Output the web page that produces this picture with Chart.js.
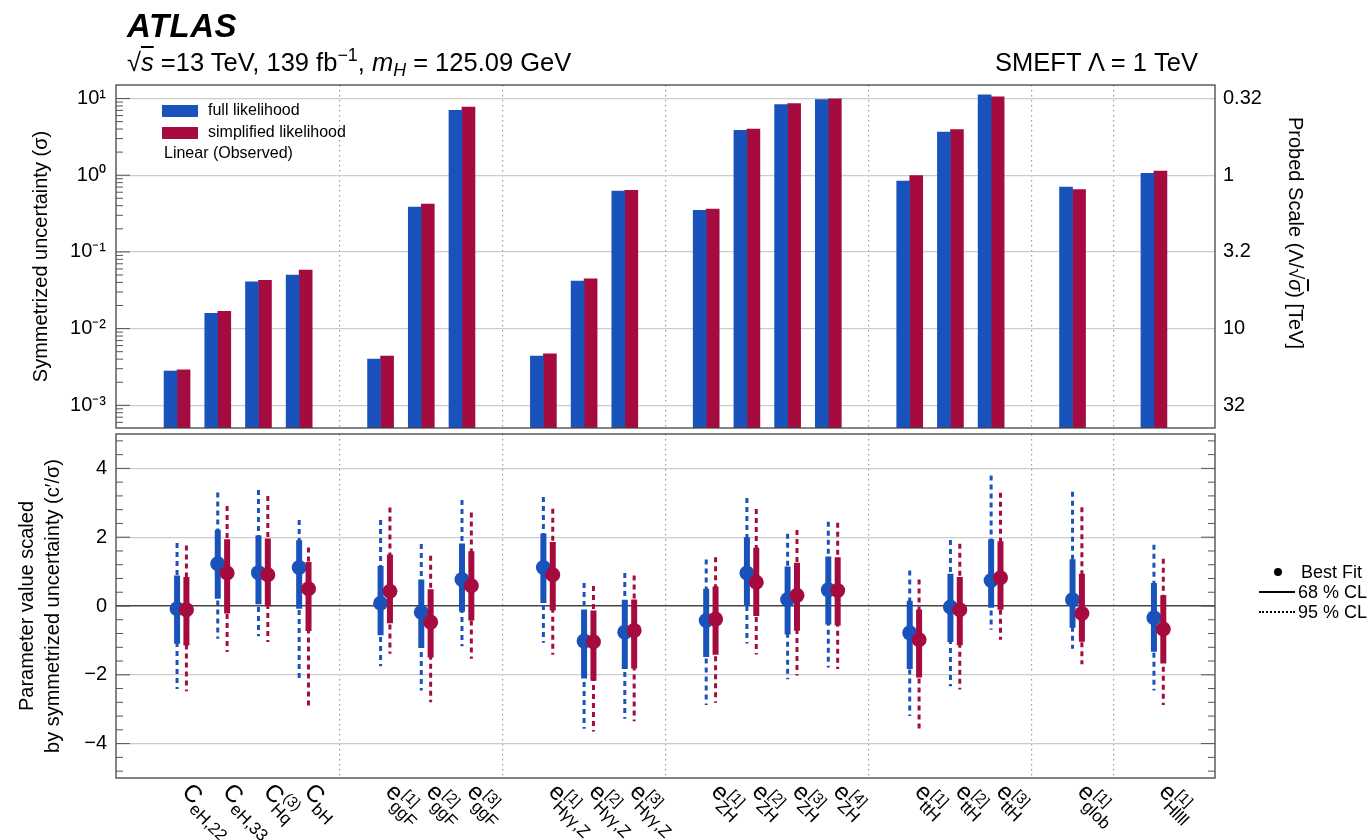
<!DOCTYPE html>
<html>
<head>
<meta charset="utf-8">
<script src="https://cdn.jsdelivr.net/npm/chart.js@4.4.1/dist/chart.umd.min.js"></script>
<style>
html,body{margin:0;padding:0;background:#fff;}
body{width:1372px;height:840px;position:relative;overflow:hidden;font-family:"Liberation Sans",Arial,sans-serif;color:#000;}
canvas{position:absolute;left:0;top:0;}
.t{position:absolute;white-space:nowrap;line-height:1;}
.sup{font-size:70%;vertical-align:0.55em;line-height:0;}
.sub{font-size:70%;vertical-align:-0.3em;line-height:0;}
.box{position:absolute;width:36px;height:12px;}
</style>
</head>
<body>
<canvas id="topChart" width="1372" height="840"></canvas>
<canvas id="lowChart" width="1372" height="840"></canvas>

<div class="t" style="left:127px;top:9px;font-size:33px;font-weight:bold;font-style:italic;letter-spacing:0.5px;">ATLAS</div>
<div class="t" style="left:127px;top:50px;font-size:25.5px;">&radic;<span style="text-decoration:overline;font-style:italic;">s</span> =13 TeV, 139 fb<span class="sup">&minus;1</span>, <i>m</i><span class="sub"><i>H</i></span> = 125.09 GeV</div>
<div class="t" style="right:174px;top:50px;font-size:25.5px;">SMEFT &Lambda; = 1 TeV</div>

<div class="box" style="left:162px;top:105px;background:#1a52bc;"></div>
<div class="box" style="left:162px;top:127px;background:#a50b3e;"></div>
<div class="t" style="left:208px;top:102px;font-size:16px;">full likelihood</div>
<div class="t" style="left:208px;top:124px;font-size:16px;">simplified likelihood</div>
<div class="t" style="left:164px;top:145px;font-size:16px;">Linear (Observed)</div>

<div class="t" style="left:1296px;top:233px;font-size:20px;transform:translate(-50%,-50%) rotate(90deg);">Probed Scale (&Lambda;/&radic;<span style="text-decoration:overline;font-style:italic;">&sigma;</span>) [TeV]</div>

<div style="position:absolute;left:1274px;top:568px;width:8px;height:8px;border-radius:50%;background:#000;"></div>
<div class="t" style="left:1301px;top:563px;font-size:18px;">Best Fit</div>
<div style="position:absolute;left:1259px;top:591px;width:36px;border-top:2px solid #000;"></div>
<div class="t" style="left:1298px;top:583px;font-size:18px;">68 % CL</div>
<div style="position:absolute;left:1259px;top:611px;width:36px;border-top:2px dotted #000;"></div>
<div class="t" style="left:1298px;top:603px;font-size:18px;">95 % CL</div>

<script>
const BLUE = '#1a52bc';
const RED = '#a50b3e';
const FONT = '"Liberation Sans", Arial, sans-serif';

// coefficient labels (main symbol, subscript, superscript)
const labelMain = ['C','C','C','C','e','e','e','e','e','e','e','e','e','e','e','e','e','e','e'];
const labelSub = ['eH,22','eH,33','Hq','bH','ggF','ggF','ggF','H\u03b3\u03b3,Z','H\u03b3\u03b3,Z','H\u03b3\u03b3,Z','ZH','ZH','ZH','ZH','ttH','ttH','ttH','glob','Hllll'];
const labelSup = ['','','(3)','','[1]','[2]','[3]','[1]','[2]','[3]','[1]','[2]','[3]','[4]','[1]','[2]','[3]','[1]','[1]'];
// slot index of each coefficient, dividers sit in the empty slots
const catPos = [0,1,2,3,5,6,7,9,10,11,13,14,15,16,18,19,20,22,24];
const dividers = [4,8,12,17,21,23];

// upper panel: symmetrized uncertainty
const fullSigma = [0.0028,0.0158,0.0408,0.0498,0.0040,0.384,7.0,0.0044,0.0416,0.62,0.348,3.84,8.36,9.7,0.836,3.65,11.2,0.70,1.06];
const simpSigma = [0.0029,0.0168,0.0425,0.0578,0.0044,0.42,7.71,0.0047,0.0446,0.633,0.362,4.0,8.61,9.9,0.99,3.92,10.5,0.65,1.13];
const sigmaTicks = [0.001,0.01,0.1,1,10];

// lower panel: best fit and intervals
const fullBest = [-0.08,1.23,0.97,1.12,0.08,-0.18,0.77,1.12,-1.02,-0.76,-0.42,0.96,0.19,0.47,-0.78,-0.03,0.74,0.18,-0.34];
const full68lo = [-1.10,0.21,0.05,-0.08,-0.85,-1.22,-0.17,0.09,-2.11,-1.83,-1.48,0.00,-0.83,-0.54,-1.83,-1.05,-0.05,-0.63,-1.33];
const full68hi = [0.89,2.22,2.05,1.91,1.16,0.77,1.82,2.11,-0.10,0.18,0.50,2.00,1.15,1.44,0.15,0.94,1.94,1.36,0.67];
const full95lo = [-2.41,-0.95,-0.88,-2.14,-1.75,-2.46,-1.17,-1.07,-3.57,-3.28,-2.88,-1.09,-2.13,-1.79,-3.20,-2.33,-0.69,-1.24,-2.46];
const full95hi = [1.83,3.30,3.37,2.50,2.50,1.80,3.08,3.17,0.67,0.96,1.35,3.14,2.10,2.45,1.03,1.92,3.79,3.32,1.78];
const simpBest = [-0.11,0.96,0.91,0.50,0.43,-0.47,0.59,0.91,-1.04,-0.71,-0.38,0.69,0.31,0.45,-0.98,-0.11,0.82,-0.22,-0.67];
const simp68lo = [-1.15,-0.22,-0.01,-0.73,-0.50,-1.50,-0.42,-0.13,-2.17,-1.82,-1.42,-0.29,-0.72,-0.57,-2.08,-1.14,-0.11,-1.04,-1.67];
const simp68hi = [0.84,1.94,1.96,1.28,1.50,0.49,1.59,1.86,-0.13,0.19,0.57,1.69,1.26,1.42,-0.10,0.84,1.88,0.94,0.31];
const simp95lo = [-2.48,-1.34,-1.05,-2.94,-1.39,-2.80,-1.53,-1.42,-3.65,-3.35,-2.81,-1.41,-2.02,-1.83,-3.65,-2.43,-0.98,-1.69,-2.88];
const simp95hi = [1.76,2.91,3.20,1.70,2.86,1.46,2.72,2.83,0.58,0.89,1.42,2.82,2.21,2.42,0.77,1.81,3.29,2.87,1.37];
const paramTicks = [-4,-2,0,2,4];

const RED_SHIFT = 0.23; // simplified markers sit a bit right of the full ones

Chart.defaults.font.family = FONT;
Chart.defaults.color = '#000';

const supMap = {'-':'\u207b','0':'\u2070','1':'\u00b9','2':'\u00b2','3':'\u00b3'};
function decadeLabel(v){
    const e = String(Math.round(Math.log10(v)));
    return '10' + e.split('').map(c=>supMap[c]).join('');
}
function probedLabel(v){
    return String(Number((1/Math.sqrt(v)).toPrecision(2)));
}

const framePlugin = {
    id:'frame',
    afterDraw(chart){
        const a = chart.chartArea, ctx = chart.ctx;
        ctx.save();
        ctx.strokeStyle = '#444';
        ctx.lineWidth = 1.3;
        ctx.strokeRect(a.left, a.top, a.right-a.left, a.bottom-a.top);
        ctx.restore();
    }
};
function insideTicks(axisId, majors, minors, sides){
    return {
        id:'inside_'+axisId,
        afterDraw(chart){
            const s = chart.scales[axisId], a = chart.chartArea, ctx = chart.ctx;
            ctx.save();
            ctx.strokeStyle = '#555';
            ctx.lineWidth = 1;
            ctx.beginPath();
            const mark = (v,len)=>{
                const y = s.getPixelForValue(v);
                if(y < a.top+1 || y > a.bottom-1) return;
                if(sides.includes('l')){ ctx.moveTo(a.left,y); ctx.lineTo(a.left+len,y); }
                if(sides.includes('r')){ ctx.moveTo(a.right,y); ctx.lineTo(a.right-len,y); }
            };
            majors.forEach(v=>mark(v,14));
            minors.forEach(v=>mark(v,7));
            ctx.stroke();
            ctx.restore();
        }
    };
}
const logMinors = [];
[-4,-3,-2,-1,0,1].forEach(d=>{ for(let m=2;m<=9;m++) logMinors.push(m*Math.pow(10,d)); });
const linMinors = [];
for(let k=-12;k<=12;k++){ if(k%5!==0) linMinors.push(k*0.4); }

const xLabelPlugin = {
    id:'xlabels',
    afterDraw(chart){
        const ctx = chart.ctx, xs = chart.scales.x, base = chart.chartArea.bottom;
        ctx.save();
        ctx.fillStyle = '#000';
        ctx.textBaseline = 'alphabetic';
        ctx.textAlign = 'left';
        catPos.forEach((p,i)=>{
            const px = xs.getPixelForValue(p);
            ctx.save();
            ctx.translate(px+4, base+15);
            ctx.rotate(Math.PI/4);
            ctx.font = '24px ' + FONT;
            ctx.fillText(labelMain[i], 0, 0);
            const w = ctx.measureText(labelMain[i]).width;
            ctx.font = '17px ' + FONT;
            ctx.fillText(labelSub[i], w, 7);
            if(labelSup[i]){
                ctx.font = '15px ' + FONT;
                ctx.fillText(labelSup[i], w+1, -10);
            }
            ctx.restore();
        });
        ctx.restore();
    }
};

function dividerAxis(){
    return {
        type:'linear', min:-1.5, max:25.5, offset:false,
        grid:{offset:false, color:'#9a9a9a', lineWidth:1.2, drawTicks:false},
        border:{display:false, dash:[1.5,3.5]},
        ticks:{display:false},
        afterBuildTicks: s => { s.ticks = dividers.map(v=>({value:v})); },
        afterFit: s => { s.height = 0; }
    };
}

new Chart(document.getElementById('topChart'), {
    type:'bar',
    data:{
        datasets:[
            {label:'full likelihood', data: catPos.map((p,i)=>({x:p, y:fullSigma[i]})), backgroundColor:BLUE, barThickness:13},
            {label:'simplified likelihood', data: catPos.map((p,i)=>({x:p, y:simpSigma[i]})), backgroundColor:RED, barThickness:13}
        ]
    },
    options:{
        responsive:false, animation:false,
        layout:{padding:{top:85, bottom:412, left:0, right:0}},
        plugins:{legend:{display:false}, tooltip:{enabled:false}},
        scales:{
            x: dividerAxis(),
            y:{
                type:'logarithmic', position:'left', min:5.06e-4, max:15,
                grid:{color:'#cccccc', lineWidth:1.2, drawTicks:false},
                border:{display:false},
                ticks:{padding:10, font:{size:20}, color:'#000', callback: v => decadeLabel(v)},
                afterBuildTicks: s => { s.ticks = sigmaTicks.map(v=>({value:v})); },
                afterFit: s => { s.width = 116; },
                title:{display:true, text:'Symmetrized uncertainty (\u03c3)', font:{size:20}, padding:{top:29}, color:'#000'}
            },
            y2:{
                type:'logarithmic', position:'right', min:5.06e-4, max:15,
                grid:{drawOnChartArea:false, drawTicks:false},
                border:{display:false},
                ticks:{padding:8, font:{size:20}, color:'#000', callback: v => probedLabel(v)},
                afterBuildTicks: s => { s.ticks = sigmaTicks.map(v=>({value:v})); },
                afterFit: s => { s.width = 157; }
            }
        }
    },
    plugins:[framePlugin, insideTicks('y', sigmaTicks, logMinors, 'l')]
});

function intervalData(lo, hi, shift){
    return catPos.flatMap((p,i)=>[{x:p+shift, y:hi[i]}, {x:p+shift, y:lo[i]}, {x:p+shift, y:null}]);
}
function pointData(best, shift){
    return catPos.map((p,i)=>({x:p+shift, y:best[i]}));
}
const lineBase = {pointRadius:0, fill:false, tension:0, spanGaps:false, borderCapStyle:'butt'};

new Chart(document.getElementById('lowChart'), {
    type:'line',
    data:{
        datasets:[
            {...lineBase, label:'full 95', data:intervalData(full95lo, full95hi, 0), borderColor:BLUE, borderWidth:3, borderDash:[5,4], order:5},
            {...lineBase, label:'full 68', data:intervalData(full68lo, full68hi, 0), borderColor:BLUE, borderWidth:6, order:4},
            {label:'full best', data:pointData(fullBest, 0), showLine:false, pointRadius:7.5, pointBorderWidth:0, pointBackgroundColor:BLUE, backgroundColor:BLUE, order:3},
            {...lineBase, label:'simp 95', data:intervalData(simp95lo, simp95hi, RED_SHIFT), borderColor:RED, borderWidth:3, borderDash:[5,4], order:2},
            {...lineBase, label:'simp 68', data:intervalData(simp68lo, simp68hi, RED_SHIFT), borderColor:RED, borderWidth:6, order:1},
            {label:'simp best', data:pointData(simpBest, RED_SHIFT), showLine:false, pointRadius:7.5, pointBorderWidth:0, pointBackgroundColor:RED, backgroundColor:RED, order:0}
        ]
    },
    options:{
        responsive:false, animation:false,
        layout:{padding:{top:434, bottom:62, left:0, right:157}},
        plugins:{legend:{display:false}, tooltip:{enabled:false}},
        scales:{
            x: dividerAxis(),
            y:{
                type:'linear', position:'left', min:-5, max:5,
                grid:{
                    color: c => c.tick && c.tick.value === 0 ? '#444' : '#cccccc',
                    lineWidth: c => c.tick && c.tick.value === 0 ? 1.6 : 1.2,
                    drawTicks:false
                },
                border:{display:false},
                ticks:{padding:9, font:{size:20}, color:'#000', callback: v => v < 0 ? '\u2212' + Math.abs(v) : String(v)},
                afterBuildTicks: s => { s.ticks = paramTicks.map(v=>({value:v})); },
                afterFit: s => { s.width = 116; },
                title:{display:true, text:['Parameter value scaled', 'by symmetrized uncertainty (c\u2032/\u03c3)'], font:{size:20, lineHeight:1.275}, padding:{top:15}, color:'#000'}
            }
        }
    },
    plugins:[framePlugin, insideTicks('y', paramTicks, linMinors, 'lr'), xLabelPlugin]
});
</script>
</body>
</html>
